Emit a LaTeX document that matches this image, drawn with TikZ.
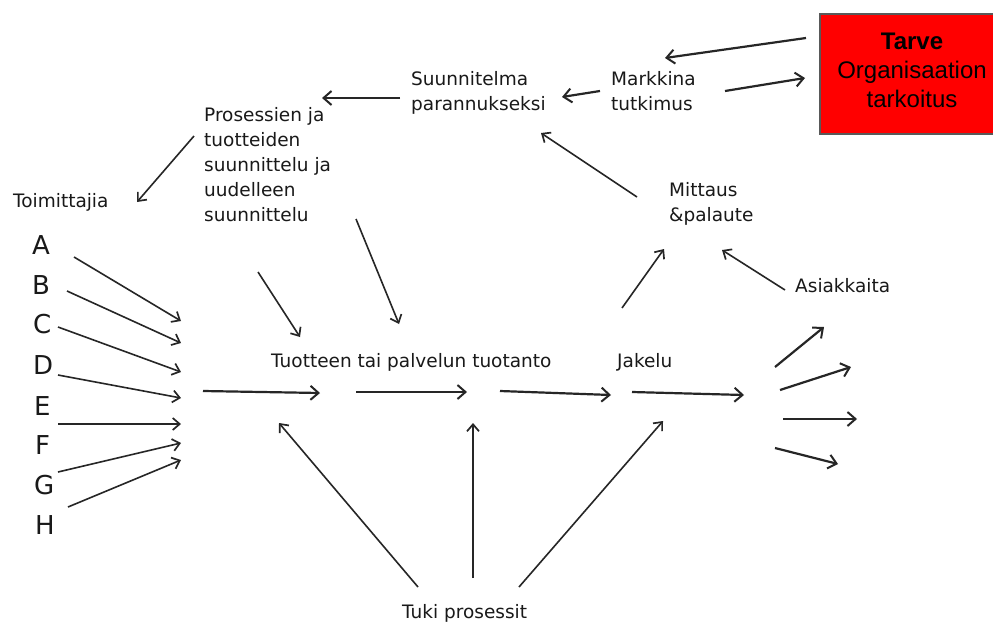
\documentclass[tikz,border=0pt]{standalone}
\usepackage{fontspec}
\setmainfont{DejaVu Sans}
\newfontfamily\arialf{Liberation Sans}
\usetikzlibrary{arrows.meta}
\begin{document}
\begin{tikzpicture}[x=1pt,y=-1pt,
  lbl/.style={anchor=north west, inner sep=0pt, align=left, text=black!90,
              font=\fontsize{18.5}{25}\selectfont},
  letter/.style={anchor=base west, inner sep=0pt, text=black!90,
              font=\fontsize{26}{30}\selectfont},
  arr/.style={draw=black!85, line width=1.6pt,
              -{Straight Barb[length=7pt,width=12pt,line width=1.7pt]}},
  arrb/.style={draw=black!85, line width=2.2pt,
              -{Straight Barb[length=8pt,width=14pt,line width=2pt]}},
  box/.style={draw=black!65, line width=1.5pt, fill=red, align=center,
              minimum width=184pt, minimum height=120pt, inner sep=0pt,
              font=\arialf\fontsize{24}{29}\selectfont}
]
\clip (0,0) rectangle (993,624);
\fill[white] (0,0) rectangle (993,624);

% ---------- text nodes ----------
\node[box] (tarve) at (912,74) {{\bfseries Tarve}\\Organisaation\\tarkoitus\rule[-8pt]{0pt}{8pt}};
\node[lbl] (suunn) at (411,67.5) {\strut Suunnitelma\\parannukseksi};
\node[lbl] (markk) at (611,67.5) {\strut Markkina\\tutkimus};
\node[lbl] (proses) at (204,103.5) {\strut Prosessien ja\\tuotteiden\\suunnittelu ja\\uudelleen\\suunnittelu};
\node[lbl] (toim) at (13,189.5) {\strut Toimittajia};
\node[lbl] (mitt) at (669,178.5) {\strut Mittaus\\\&palaute};
\node[lbl] (asiak) at (795,274.5) {\strut Asiakkaita};
\node[lbl] (tuot) at (271,349.5) {\strut Tuotteen tai palvelun tuotanto};
\node[lbl] (jakelu) at (617,349.5) {\strut Jakelu};
\node[lbl] (tuki) at (402,600.5) {\strut Tuki prosessit};

\node[letter] (A) at (32,254) {A};
\node[letter] (B) at (32,294) {B};
\node[letter] (C) at (33,333) {C};
\node[letter] (D) at (33,374) {D};
\node[letter] (E) at (34,415) {E};
\node[letter] (F) at (35,454) {F};
\node[letter] (G) at (34,494) {G};
\node[letter] (H) at (35,534) {H};

% ---------- arrow end points ----------
\coordinate (tarveOut) at (806,38);  \coordinate (markkIn) at (665,58);
\coordinate (markkOut) at (725,91);  \coordinate (tarveIn) at (805,78);
\coordinate (markkL) at (600,91);    \coordinate (suunnR) at (562,97);
\coordinate (suunnL) at (400,98);    \coordinate (prosR) at (322,98);
\coordinate (prosL) at (194,136);    \coordinate (toimIn) at (137,202);
\coordinate (mittOut) at (637,197);  \coordinate (suunnB) at (541,133);
\coordinate (jakUp) at (622,308);    \coordinate (mittInL) at (664,249);
\coordinate (asiakOut) at (785,290); \coordinate (mittInR) at (722,250);
\coordinate (prosB1) at (258,272);   \coordinate (tuotIn1) at (300,337);
\coordinate (prosB2) at (356,219);   \coordinate (tuotIn2) at (399,324);

\coordinate (At) at (74,257);  \coordinate (Ah) at (181,321);
\coordinate (Bt) at (67,291);  \coordinate (Bh) at (181,343);
\coordinate (Ct) at (58,327);  \coordinate (Ch) at (181,372);
\coordinate (Dt) at (58,375);  \coordinate (Dh) at (181,398);
\coordinate (Et) at (58,424);  \coordinate (Eh) at (181,424);
\coordinate (Gt) at (58,472);  \coordinate (Gh) at (181,443);
\coordinate (Ht) at (68,507);  \coordinate (Hh) at (181,460);

\coordinate (hub) at (203,391);   \coordinate (p1) at (320,393);
\coordinate (p1b) at (356,392);   \coordinate (p2) at (467,392);
\coordinate (p2b) at (500,391);   \coordinate (p3) at (611,395);
\coordinate (p3b) at (632,392);   \coordinate (p4) at (744,395);

\coordinate (f1t) at (775,367); \coordinate (f1h) at (824,327);
\coordinate (f2t) at (780,390); \coordinate (f2h) at (851,367);
\coordinate (f3t) at (783,419); \coordinate (f3h) at (857,419);
\coordinate (f4t) at (775,448); \coordinate (f4h) at (838,464);

\coordinate (tukiL) at (418,587);  \coordinate (tukiLh) at (279,423);
\coordinate (tukiM) at (473,578);  \coordinate (tukiMh) at (473,423);
\coordinate (tukiR) at (519,587);  \coordinate (tukiRh) at (663,421);

% ---------- connectors ----------
\draw[arrb] (tarveOut) -- (markkIn);
\draw[arrb] (markkOut) -- (tarveIn);
\draw[arrb] (markkL) -- (suunnR);
\draw[arrb] (suunnL) -- (prosR);
\draw[arr] (prosL) -- (toimIn);
\draw[arr] (mittOut) -- (suunnB);
\draw[arr] (jakUp) -- (mittInL);
\draw[arr] (asiakOut) -- (mittInR);
\draw[arr] (prosB1) -- (tuotIn1);
\draw[arr] (prosB2) -- (tuotIn2);

\draw[arr] (At) -- (Ah);
\draw[arr] (Bt) -- (Bh);
\draw[arr] (Ct) -- (Ch);
\draw[arr] (Dt) -- (Dh);
\draw[arr] (Et) -- (Eh);
\draw[arr] (Gt) -- (Gh);
\draw[arr] (Ht) -- (Hh);

\draw[arrb] (hub) -- (p1);
\draw[arrb] (p1b) -- (p2);
\draw[arrb] (p2b) -- (p3);
\draw[arrb] (p3b) -- (p4);

\draw[arrb] (f1t) -- (f1h);
\draw[arrb] (f2t) -- (f2h);
\draw[arrb] (f3t) -- (f3h);
\draw[arrb] (f4t) -- (f4h);

\draw[arr] (tukiL) -- (tukiLh);
\draw[arr] (tukiM) -- (tukiMh);
\draw[arr] (tukiR) -- (tukiRh);
\end{tikzpicture}
\end{document}
